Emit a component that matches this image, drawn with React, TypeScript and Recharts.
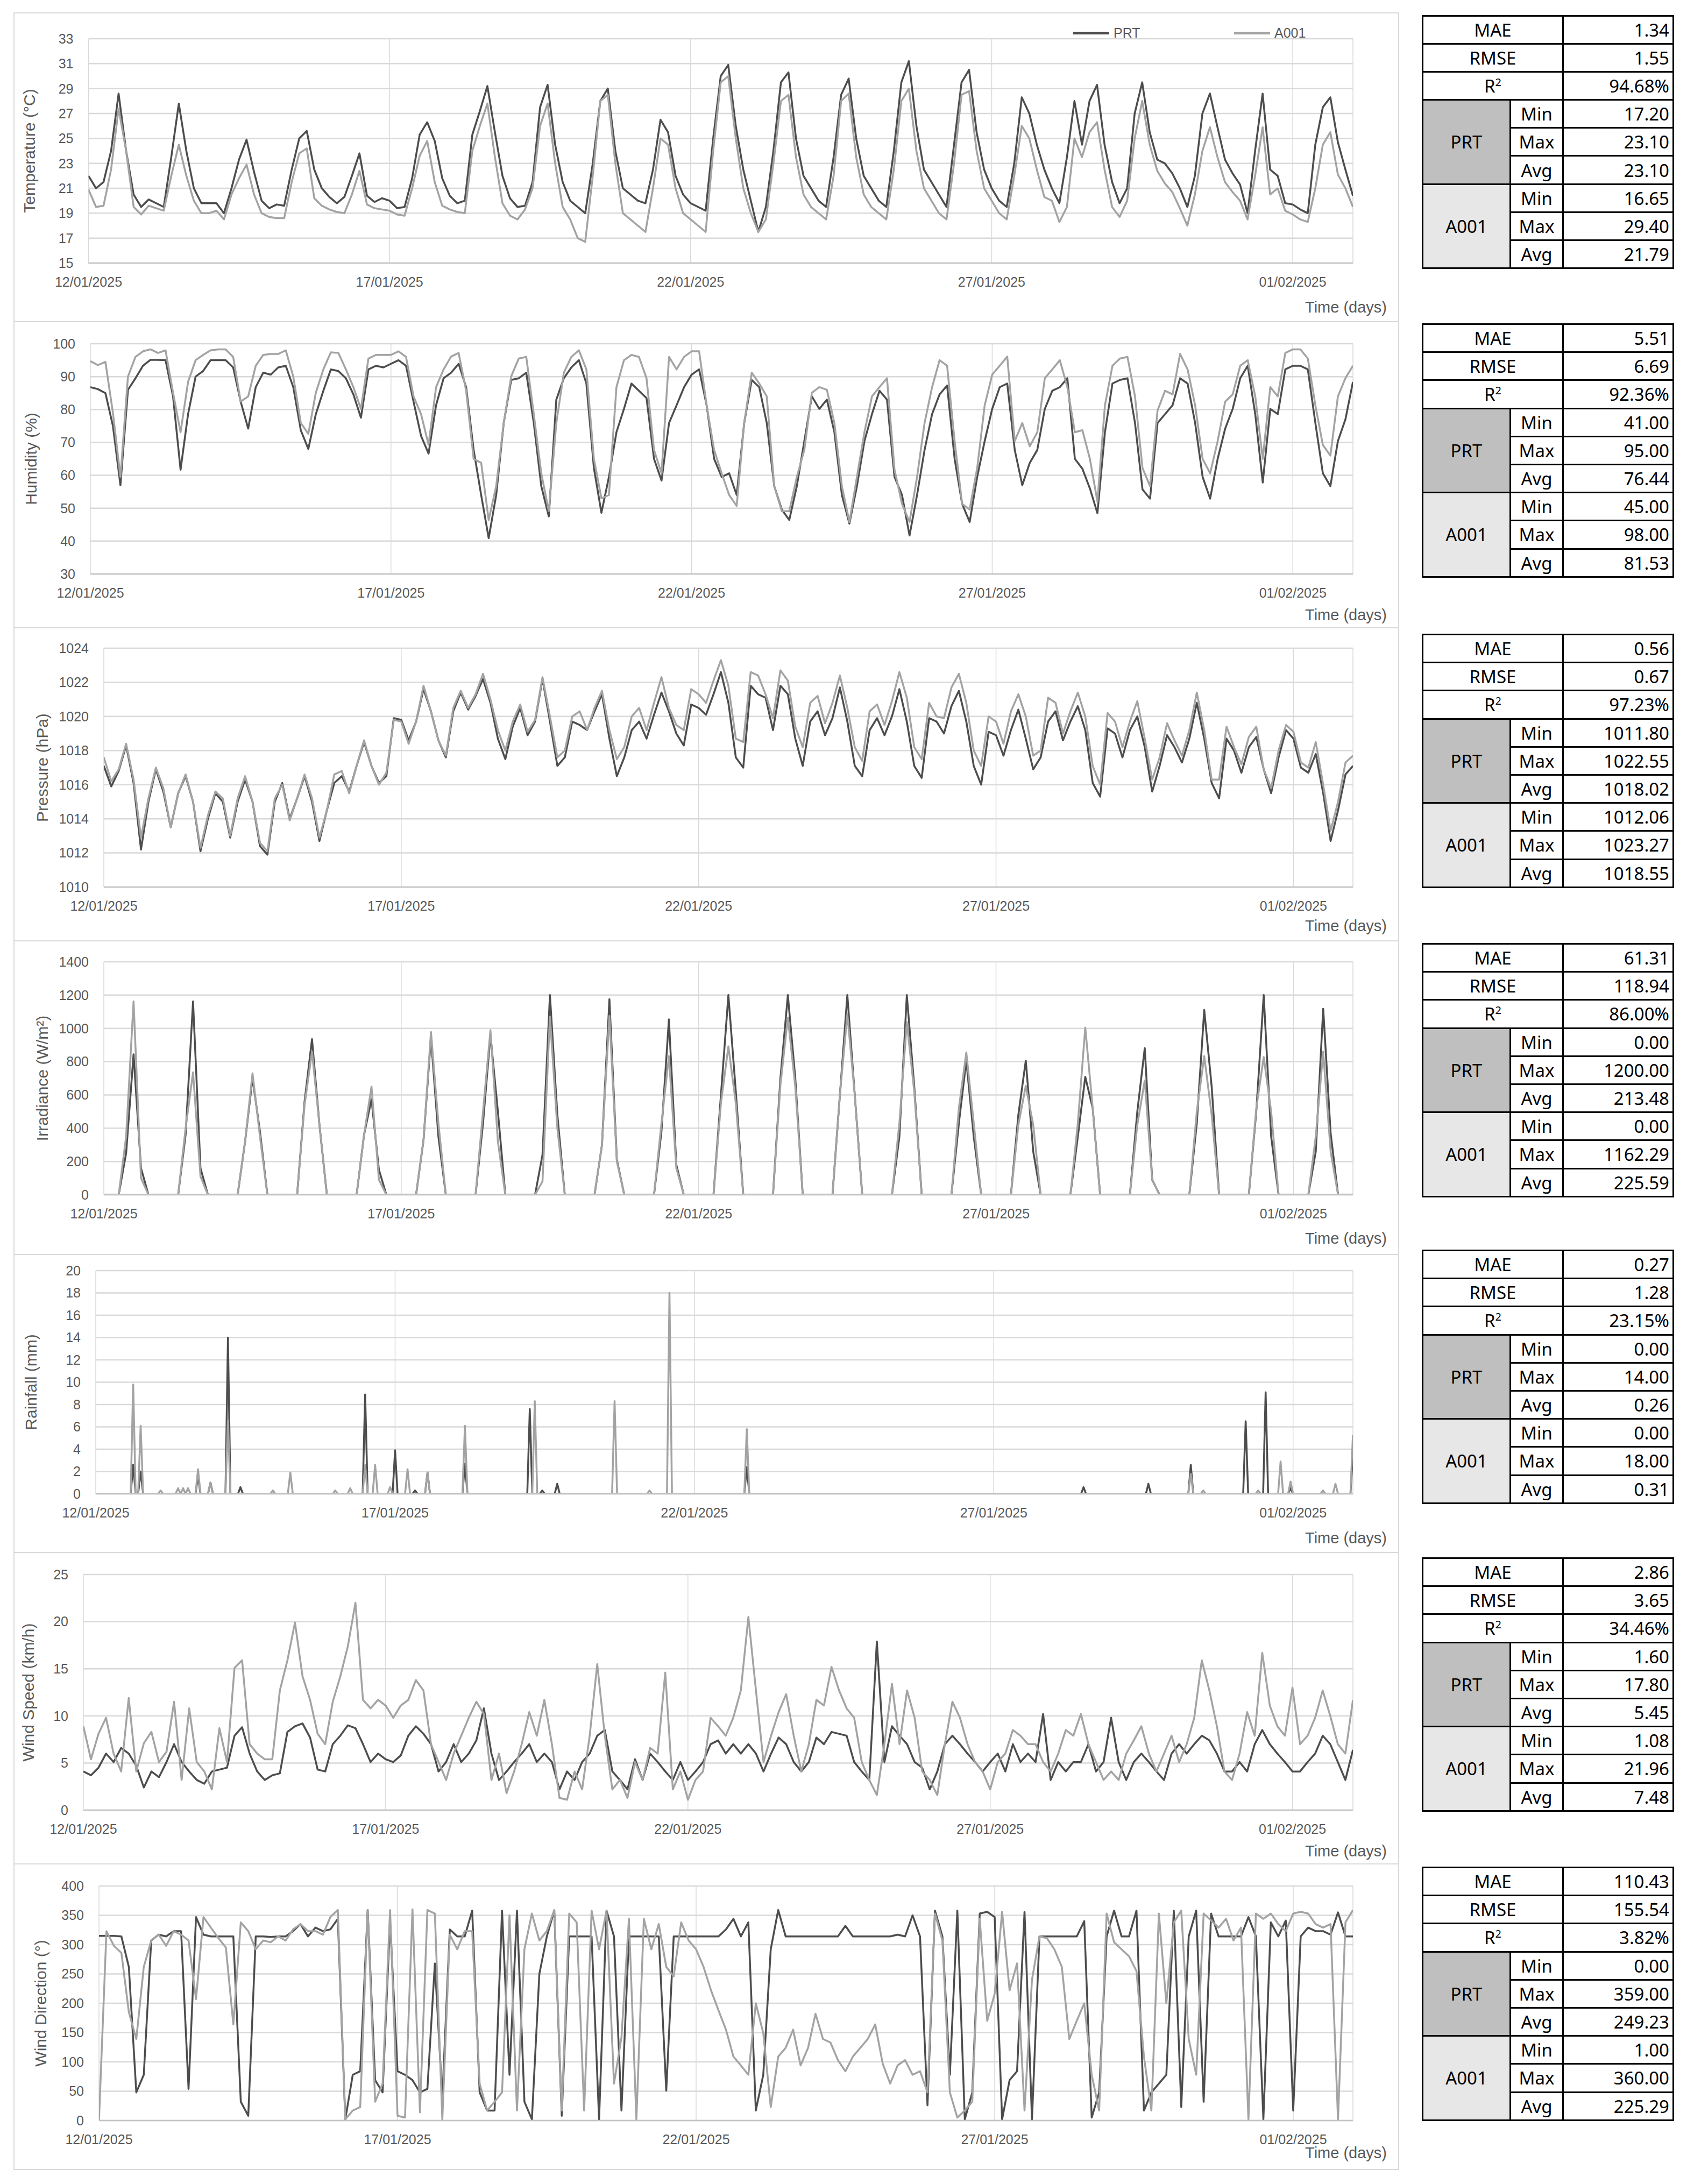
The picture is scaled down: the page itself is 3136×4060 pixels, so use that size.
import React from 'react';
import { LineChart, Line, XAxis, YAxis, CartesianGrid, Legend } from 'recharts';

// ---------- axis categories ----------
const dateTicks = [0, 5, 10, 15, 20];
const dateLabels = ['12/01/2025', '17/01/2025', '22/01/2025', '27/01/2025', '01/02/2025'];
const seriesNames = ['PRT', 'A001'];

// ---------- 3-hourly samples, 12/01/2025 00:00 -> 02/02/2025 00:00 ----------
const tempPrt = [
  22.0, 21.0, 21.5, 24.0, 28.6, 24.0, 20.5, 19.5,
  20.1, 19.8, 19.5, 23.5, 27.8, 24.0, 21.0, 19.8,
  19.8, 19.8, 19.0, 21.0, 23.3, 24.9, 22.3, 20.0,
  19.4, 19.7, 19.6, 22.5, 25.0, 25.6, 22.5, 21.0,
  20.3, 19.8, 20.3, 22.0, 23.8, 20.4, 19.9, 20.2,
  20.0, 19.4, 19.5, 21.8, 25.3, 26.3, 24.8, 21.8,
  20.4, 19.8, 20.0, 25.3, 27.2, 29.2, 25.5, 22.0,
  20.2, 19.5, 19.6, 21.5, 27.5, 29.3, 24.5, 21.5,
  20.0, 19.5, 19.0, 23.0, 28.0, 29.0, 24.0, 21.0,
  20.5, 20.0, 19.8, 22.5, 26.5, 25.5, 22.0, 20.5,
  19.8, 19.5, 19.2, 25.0, 30.0, 30.9, 26.0, 22.5,
  20.0, 17.5, 19.5, 24.0, 29.5, 30.3, 25.0, 22.0,
  21.0, 20.0, 19.5, 23.5, 28.5, 29.8, 25.0, 22.0,
  21.0, 20.0, 19.5, 24.0, 29.5, 31.2, 26.0, 22.5,
  21.5, 20.5, 19.5, 24.5, 29.5, 30.5, 25.5, 22.5,
  21.0, 20.0, 19.5, 23.0, 28.3, 27.0, 24.5, 22.5,
  21.0, 19.8, 23.5, 28.0, 24.5, 28.0, 29.3, 24.5,
  21.5, 19.8, 21.0, 27.0, 29.5, 25.5, 23.3, 23.0,
  22.2, 21.0, 19.5, 22.0, 27.0, 28.6, 25.9, 23.3,
  22.2, 21.3, 19.0, 24.0, 28.6, 22.5, 22.0, 19.8,
  19.7, 19.3, 19.0, 24.5, 27.5, 28.3, 24.7, 22.5,
  20.4,
];
const tempA001 = [
  20.9, 19.5, 19.6, 22.5, 27.4, 24.0, 19.5, 18.9,
  19.6, 19.4, 19.2, 22.0, 24.5, 22.0, 20.0, 19.0,
  19.0, 19.2, 18.5, 20.5, 21.8, 22.9, 20.5, 19.0,
  18.7, 18.6, 18.6, 21.5, 23.8, 24.2, 20.2, 19.6,
  19.3, 19.1, 19.0, 20.5, 22.4, 19.7, 19.4, 19.3,
  19.2, 18.9, 18.8, 21.0, 23.6, 24.8, 21.5, 19.6,
  19.3, 19.1, 19.0, 24.0, 26.0, 27.8, 23.5, 19.8,
  18.8, 18.5, 19.3, 21.0, 26.0, 27.8, 23.0, 19.5,
  18.5, 17.0, 16.7, 22.0, 28.0, 28.5, 23.0, 19.0,
  18.5, 18.0, 17.5, 21.0, 25.0, 24.5, 21.0, 19.0,
  18.5, 18.0, 17.5, 24.0, 29.5, 30.0, 25.0, 21.0,
  19.0, 17.5, 18.5, 23.0, 28.0, 28.5, 23.5, 20.5,
  19.5, 19.0, 18.5, 22.0, 28.0, 28.6, 23.5, 20.5,
  19.5, 19.0, 18.5, 22.5, 28.0, 29.0, 24.0, 21.0,
  20.0, 19.0, 18.5, 23.0, 28.5, 28.8, 24.0, 21.0,
  20.0, 19.0, 18.5, 22.0, 26.0, 25.0, 22.5, 20.3,
  20.0, 18.3, 19.5, 25.0, 23.5, 25.5, 26.3, 22.5,
  19.5, 18.7, 20.0, 25.0, 28.0, 24.5, 22.4, 21.4,
  20.7, 19.4, 18.0, 20.5, 24.0, 25.9, 23.5, 21.5,
  20.7, 20.0, 18.5, 22.0, 25.9, 20.5, 21.0, 19.2,
  18.9, 18.5, 18.3, 21.0, 24.5, 25.5, 22.1, 21.0,
  19.5,
];

const humPrt = [
  86.8, 86.2, 85.0, 75.0, 57.0, 86.0, 89.5, 93.3,
  95.1, 95.1, 95.0, 84.0, 61.7, 78.6, 90.0, 91.7,
  95.0, 95.0, 95.0, 92.8, 82.4, 74.2, 86.8, 91.2,
  90.6, 92.8, 93.3, 86.8, 73.7, 68.0, 78.6, 85.7,
  92.2, 91.7, 89.5, 84.6, 77.5, 92.2, 93.3, 92.8,
  93.9, 95.0, 93.3, 82.4, 72.0, 66.6, 81.3, 89.5,
  91.2, 93.9, 86.8, 67.7, 54.0, 40.9, 54.0, 75.9,
  89.0, 89.5, 91.2, 75.9, 56.7, 47.5, 83.0, 89.5,
  92.8, 95.0, 87.9, 62.2, 48.6, 59.5, 73.1, 80.2,
  87.9, 85.7, 83.5, 65.0, 58.4, 75.9, 81.3, 86.8,
  90.6, 92.2, 81.3, 65.0, 59.5, 60.6, 54.0, 75.9,
  89.0, 86.8, 75.9, 56.7, 49.6, 46.4, 56.7, 70.4,
  84.0, 80.2, 83.0, 73.1, 54.0, 45.3, 56.7, 70.4,
  78.6, 85.7, 83.0, 59.5, 54.0, 41.7, 54.0, 67.7,
  78.6, 84.6, 87.3, 65.0, 51.3, 45.8, 59.5, 70.4,
  80.2, 86.8, 87.9, 67.7, 57.0, 63.8, 67.7, 80.2,
  85.7, 86.8, 89.5, 65.0, 62.0, 56.0, 48.5, 73.1,
  87.9, 89.0, 89.5, 75.9, 55.7, 52.9, 75.9, 78.6,
  81.3, 89.5, 87.9, 75.9, 59.5, 52.9, 65.0, 74.2,
  80.2, 89.5, 93.3, 78.6, 57.8, 80.2, 78.6, 92.2,
  93.3, 93.3, 92.2, 75.9, 60.6, 56.7, 70.4, 77.0,
  88.4,
];
const humA001 = [
  94.7, 93.5, 94.5, 79.0, 59.5, 90.0, 96.0, 97.7,
  98.3, 97.2, 98.0, 85.1, 73.1, 88.4, 95.0, 96.6,
  98.0, 98.3, 98.3, 96.0, 82.4, 84.0, 93.3, 96.6,
  96.9, 96.9, 98.0, 90.0, 75.9, 72.6, 85.1, 92.2,
  97.4, 97.2, 92.2, 86.8, 80.2, 95.5, 96.6, 96.6,
  96.6, 97.7, 96.0, 84.0, 78.6, 69.3, 86.8, 92.2,
  96.1, 97.2, 85.7, 65.0, 63.8, 46.4, 56.7, 75.9,
  90.1, 95.5, 96.0, 78.6, 60.6, 49.1, 75.9, 91.2,
  96.0, 98.0, 92.2, 65.0, 53.0, 54.0, 86.8, 95.0,
  96.6, 96.0, 89.5, 67.7, 60.6, 96.0, 92.2, 96.0,
  97.7, 97.7, 81.3, 67.7, 60.6, 54.0, 50.7, 75.9,
  91.2, 87.9, 84.0, 56.7, 49.1, 49.1, 59.5, 67.7,
  85.1, 86.8, 86.0, 75.9, 56.7, 45.8, 59.5, 73.1,
  84.0, 86.8, 89.5, 61.7, 51.3, 45.8, 59.5, 75.9,
  86.8, 95.0, 93.3, 70.4, 51.3, 49.6, 62.2, 81.3,
  90.6, 93.3, 96.1, 70.4, 75.9, 68.8, 73.1, 89.5,
  92.2, 95.0, 86.8, 73.1, 73.7, 65.0, 52.0, 81.3,
  93.3, 95.5, 96.0, 84.0, 62.2, 56.7, 79.7, 85.7,
  84.6, 96.9, 92.2, 81.3, 65.0, 60.6, 70.4, 82.4,
  84.6, 93.3, 95.0, 84.0, 65.0, 86.8, 84.0, 97.2,
  98.3, 98.3, 95.5, 81.3, 69.2, 66.0, 84.0, 89.5,
  93.3,
];

const presPrt = [
  1017.1, 1015.9, 1016.8, 1018.3, 1016.1, 1012.2, 1015.0, 1016.9,
  1015.6, 1013.5, 1015.5, 1016.5, 1015.0, 1012.1, 1014.0, 1015.5,
  1015.0, 1012.9, 1015.0, 1016.3, 1015.0, 1012.4, 1011.9, 1015.0,
  1016.1, 1014.0, 1015.2, 1016.5, 1015.0, 1012.7, 1014.5, 1016.1,
  1016.5, 1015.6, 1017.1, 1018.5, 1017.1, 1016.1, 1016.5, 1019.9,
  1019.8, 1018.6, 1019.7, 1021.6, 1020.3, 1018.6, 1017.6, 1020.3,
  1021.4, 1020.4, 1021.2, 1022.2, 1020.8, 1018.7, 1017.5, 1019.4,
  1020.5, 1018.9, 1019.7, 1022.2, 1019.7, 1017.1, 1017.6, 1019.7,
  1019.5, 1019.2, 1020.3, 1021.3, 1018.7, 1016.5, 1017.6, 1019.2,
  1019.7, 1018.7, 1020.1, 1021.4, 1020.3, 1019.0, 1018.3, 1020.7,
  1020.5, 1020.1, 1021.3, 1022.6, 1020.8, 1017.6, 1017.0, 1021.8,
  1021.3, 1021.1, 1019.2, 1021.8, 1021.3, 1018.7, 1017.1, 1019.7,
  1020.3, 1018.9, 1019.9, 1021.7, 1019.7, 1017.1, 1016.5, 1019.2,
  1019.9, 1018.9, 1020.0, 1021.6, 1019.7, 1017.1, 1016.4, 1019.9,
  1019.7, 1019.0, 1020.6, 1021.5, 1019.7, 1017.1, 1016.0, 1019.1,
  1018.9, 1017.7, 1019.2, 1020.4, 1018.7, 1016.9, 1017.6, 1019.7,
  1020.3, 1018.6, 1019.7, 1020.6, 1019.2, 1016.1, 1015.3, 1019.3,
  1019.0, 1017.6, 1019.2, 1020.0, 1018.2, 1015.6, 1017.1, 1018.9,
  1018.2, 1017.3, 1018.7, 1020.8, 1018.7, 1016.1, 1015.2, 1018.7,
  1018.0, 1016.7, 1018.2, 1018.8, 1016.9, 1015.5, 1017.6, 1019.2,
  1018.7, 1017.0, 1016.7, 1017.8, 1015.5, 1012.7, 1014.5, 1016.6,
  1017.1,
];
const presA001 = [
  1017.6, 1016.2, 1016.9, 1018.4, 1016.3, 1012.9, 1015.2, 1017.0,
  1015.8, 1013.5, 1015.5, 1016.6, 1015.0, 1012.3, 1014.2, 1015.6,
  1015.2, 1013.0, 1015.2, 1016.5, 1015.0, 1012.6, 1012.1, 1015.2,
  1016.0, 1013.9, 1015.2, 1016.6, 1015.2, 1012.9, 1014.5, 1016.6,
  1016.8, 1015.5, 1017.1, 1018.6, 1017.1, 1016.0, 1016.7, 1019.8,
  1019.7, 1018.4, 1019.7, 1021.8, 1020.3, 1018.6, 1017.7, 1020.5,
  1021.5, 1020.5, 1021.3, 1022.5, 1021.0, 1019.2, 1018.0, 1019.7,
  1020.7, 1019.1, 1019.8, 1022.3, 1020.0, 1017.6, 1018.0, 1020.0,
  1020.3, 1019.2, 1020.5, 1021.5, 1019.2, 1017.5, 1018.2, 1020.0,
  1020.5, 1019.2, 1020.8, 1022.3, 1020.5, 1019.5, 1019.2, 1021.6,
  1021.3, 1020.8, 1022.1, 1023.3, 1021.8, 1018.7, 1018.5, 1022.6,
  1022.4, 1021.3, 1019.9, 1022.7, 1022.1, 1019.4, 1018.2, 1020.8,
  1021.2, 1019.6, 1020.8, 1022.4, 1020.5, 1018.2, 1017.4, 1020.3,
  1020.7, 1019.5, 1020.9, 1022.6, 1021.1, 1018.2, 1017.5, 1020.8,
  1020.0, 1019.9, 1021.7, 1022.5, 1020.8, 1018.0, 1017.1, 1020.0,
  1019.7, 1018.4, 1020.3, 1021.3, 1020.0, 1017.7, 1018.0, 1021.1,
  1020.8, 1019.0, 1020.3, 1021.4, 1020.0, 1017.1, 1016.0, 1020.2,
  1019.7, 1018.2, 1019.7, 1020.9, 1018.7, 1016.3, 1017.6, 1019.6,
  1018.6, 1017.7, 1019.2, 1021.4, 1019.2, 1016.3, 1016.3, 1019.4,
  1018.2, 1017.2, 1018.8, 1019.4, 1016.9, 1015.8, 1018.0, 1019.5,
  1019.1, 1017.3, 1017.0, 1018.5, 1016.0, 1013.3, 1015.0, 1017.3,
  1017.7,
];

const irrPrt = [
  0, 0, 0, 250, 844, 160, 0, 0,
  0, 0, 0, 360, 1162, 160, 0, 0,
  0, 0, 0, 320, 700, 380, 0, 0,
  0, 0, 0, 560, 935, 420, 0, 0,
  0, 0, 0, 360, 574, 150, 0, 0,
  0, 0, 0, 330, 946, 350, 0, 0,
  0, 0, 0, 430, 960, 500, 0, 0,
  0, 0, 0, 240, 1200, 480, 0, 0,
  0, 0, 0, 300, 1175, 210, 0, 0,
  0, 0, 0, 380, 1054, 180, 0, 0,
  0, 0, 0, 600, 1200, 620, 0, 0,
  0, 0, 0, 700, 1200, 700, 0, 0,
  0, 0, 0, 600, 1200, 600, 0, 0,
  0, 0, 0, 350, 1200, 650, 0, 0,
  0, 0, 0, 430, 806, 350, 0, 0,
  0, 0, 0, 480, 806, 260, 0, 0,
  0, 0, 0, 350, 709, 520, 0, 0,
  0, 0, 0, 500, 881, 90, 0, 0,
  0, 0, 0, 430, 1111, 650, 0, 0,
  0, 0, 0, 500, 1200, 350, 0, 0,
  0, 0, 0, 260, 1118, 370, 0, 0,
  0,
];
const irrA001 = [
  0, 0, 0, 350, 1162, 100, 0, 0,
  0, 0, 0, 400, 736, 110, 0, 0,
  0, 0, 0, 320, 730, 350, 0, 0,
  0, 0, 0, 540, 860, 420, 0, 0,
  0, 0, 0, 360, 650, 90, 0, 0,
  0, 0, 0, 330, 978, 430, 0, 0,
  0, 0, 0, 500, 989, 320, 0, 0,
  0, 0, 0, 80, 1070, 400, 0, 0,
  0, 0, 0, 300, 1075, 200, 0, 0,
  0, 0, 0, 430, 833, 160, 0, 0,
  0, 0, 0, 550, 892, 550, 0, 0,
  0, 0, 0, 660, 1065, 650, 0, 0,
  0, 0, 0, 600, 1086, 600, 0, 0,
  0, 0, 0, 430, 1038, 620, 0, 0,
  0, 0, 0, 520, 855, 430, 0, 0,
  0, 0, 0, 420, 655, 420, 0, 0,
  0, 0, 0, 430, 1005, 520, 0, 0,
  0, 0, 0, 420, 687, 90, 0, 0,
  0, 0, 0, 500, 833, 480, 0, 0,
  0, 0, 0, 520, 828, 500, 0, 0,
  0, 0, 0, 350, 860, 260, 0, 0,
  0,
];

// rainfall: hourly record, only the non-zero hours are listed (hour index from 12/01 00:00)
const rainPrtHour = [15, 18, 41, 46, 53, 58, 108, 120, 128, 133, 148, 174, 179, 185, 261, 396, 422, 439, 461, 469, 479, 504];
const rainPrtMm = [2.6, 2.0, 1.6, 1.0, 14.0, 0.6, 8.9, 3.9, 0.3, 1.9, 2.7, 7.6, 0.3, 0.9, 2.4, 0.6, 0.9, 2.6, 6.5, 9.1, 0.5, 3.5];
const rainA001Hour = [15, 18, 26, 33, 35, 37, 41, 46, 53, 71, 78, 96, 102, 108, 112, 118, 125, 133, 148, 176, 208, 222, 230, 261, 439, 444, 466, 475, 479, 492, 497, 504];
const rainA001Mm = [9.8, 6.1, 0.3, 0.5, 0.5, 0.5, 2.2, 1.0, 6.6, 0.3, 1.9, 0.3, 0.5, 2.6, 2.6, 0.6, 2.2, 1.9, 6.1, 8.3, 8.3, 0.3, 18.0, 5.8, 1.8, 0.3, 0.3, 2.9, 1.1, 0.3, 0.9, 5.3];

const windPrt = [
  4.1, 3.7, 4.5, 6.0, 5.1, 6.6, 6.0, 4.7,
  2.4, 4.1, 3.5, 5.1, 7.0, 5.1, 4.1, 3.2,
  2.8, 4.1, 4.3, 4.5, 7.9, 8.8, 6.0, 4.1,
  3.2, 3.7, 3.9, 8.3, 8.9, 9.2, 7.7, 4.3,
  4.1, 7.0, 7.9, 9.0, 8.7, 7.0, 5.1, 6.0,
  5.4, 5.1, 5.8, 7.9, 8.9, 8.1, 7.0, 4.1,
  5.1, 7.0, 5.1, 6.0, 7.4, 10.8, 6.0, 3.2,
  4.1, 5.1, 6.0, 7.0, 5.1, 6.0, 5.1, 2.2,
  4.1, 3.2, 5.1, 6.0, 7.9, 8.5, 4.1, 3.2,
  2.2, 5.4, 3.2, 6.0, 5.1, 4.1, 3.2, 5.1,
  3.2, 4.1, 5.1, 7.0, 7.4, 6.0, 7.0, 6.0,
  7.0, 6.0, 4.1, 6.0, 7.7, 7.0, 5.1, 4.1,
  5.1, 7.7, 7.0, 8.3, 8.1, 7.9, 5.1, 4.1,
  3.2, 17.9, 5.1, 8.9, 7.9, 7.0, 5.1, 4.5,
  2.2, 4.1, 7.0, 7.9, 7.0, 6.0, 5.1, 4.1,
  5.1, 6.0, 4.1, 7.0, 5.1, 6.0, 5.1, 10.2,
  3.2, 5.1, 4.1, 5.1, 5.1, 7.0, 4.1, 5.1,
  9.8, 5.1, 3.2, 5.1, 6.0, 5.1, 4.1, 3.2,
  6.0, 7.0, 6.0, 7.0, 7.9, 7.4, 6.0, 4.1,
  4.1, 5.1, 4.1, 7.0, 8.5, 7.0, 6.0, 5.1,
  4.1, 4.1, 5.1, 6.0, 7.9, 7.0, 5.1, 3.2,
  6.4,
];
const windA001 = [
  8.9, 5.4, 8.1, 9.8, 6.0, 4.1, 11.9, 4.1,
  7.1, 8.3, 5.1, 6.2, 11.5, 3.2, 10.8, 5.1,
  4.1, 2.2, 8.7, 5.1, 15.1, 15.9, 7.0, 6.0,
  5.4, 5.4, 12.7, 15.9, 19.9, 14.2, 11.7, 8.1,
  7.0, 11.5, 14.2, 17.4, 22.0, 11.7, 10.8, 11.7,
  11.1, 9.8, 11.1, 11.7, 13.8, 12.7, 7.0, 5.1,
  3.2, 6.0, 7.9, 9.8, 11.5, 10.2, 3.2, 6.0,
  1.8, 4.1, 7.0, 10.4, 7.9, 11.7, 7.0, 1.3,
  1.1, 4.1, 2.2, 7.9, 15.5, 7.9, 2.2, 3.2,
  1.3, 5.1, 3.2, 6.6, 6.0, 14.6, 2.2, 4.1,
  1.1, 3.2, 4.1, 9.8, 8.9, 7.9, 9.8, 12.7,
  20.5, 12.7, 5.1, 7.9, 10.4, 12.3, 7.9, 4.1,
  7.0, 11.7, 11.1, 15.2, 12.7, 10.8, 9.8, 5.1,
  3.2, 1.6, 7.0, 13.4, 7.0, 12.7, 9.8, 4.1,
  3.2, 1.6, 7.0, 11.5, 9.8, 7.0, 5.1, 4.1,
  2.2, 5.1, 6.0, 8.5, 7.9, 7.0, 7.0, 5.1,
  4.1, 6.0, 8.5, 7.9, 10.2, 7.0, 5.1, 3.2,
  4.1, 3.2, 6.0, 7.4, 8.9, 6.0, 4.1, 6.0,
  7.9, 5.1, 7.0, 9.8, 15.9, 12.7, 8.9, 4.1,
  3.2, 6.0, 10.4, 7.9, 16.7, 11.1, 8.9, 7.9,
  13.0, 7.0, 7.9, 9.8, 12.7, 10.0, 7.0, 6.0,
  11.7,
];

const dirPrt = [
  315, 315, 315, 314, 262, 48, 78, 307,
  317, 314, 323, 323, 54, 347, 317, 314,
  314, 314, 314, 32, 8, 314, 314, 313,
  314, 314, 323, 335, 314, 329, 323, 326,
  344, 2, 78, 84, 359, 69, 48, 340,
  84, 78, 69, 48, 54, 268, 38, 326,
  314, 314, 358, 48, 17, 17, 358, 78,
  358, 32, 2, 250, 314, 358, 8, 314,
  314, 314, 314, 2, 358, 314, 17, 314,
  314, 314, 314, 314, 51, 314, 314, 314,
  314, 314, 314, 314, 326, 344, 314, 338,
  17, 78, 292, 359, 314, 314, 314, 314,
  314, 314, 314, 314, 332, 314, 314, 314,
  314, 314, 314, 317, 314, 350, 314, 26,
  358, 314, 78, 358, 2, 48, 353, 356,
  347, 2, 69, 84, 356, 2, 314, 314,
  314, 314, 314, 314, 340, 5, 48, 314,
  358, 314, 314, 358, 17, 48, 63, 78,
  358, 23, 314, 358, 32, 353, 314, 314,
  314, 314, 347, 314, 2, 338, 314, 341,
  17, 314, 329, 323, 323, 317, 355, 314,
  314,
];
const dirA001 = [
  1, 323, 298, 286, 185, 139, 262, 307,
  317, 298, 323, 317, 307, 207, 347, 329,
  311, 295, 164, 338, 323, 292, 307, 304,
  314, 307, 326, 335, 323, 323, 317, 347,
  359, 2, 17, 23, 359, 32, 63, 359,
  8, 5, 360, 14, 359, 353, 2, 317,
  292, 323, 323, 63, 17, 32, 48, 350,
  17, 292, 353, 307, 323, 359, 17, 353,
  338, 17, 358, 292, 358, 63, 142, 344,
  2, 344, 292, 335, 262, 246, 338, 307,
  292, 262, 222, 188, 155, 109, 94, 78,
  200, 149, 23, 109, 124, 155, 94, 124,
  182, 139, 133, 103, 84, 109, 124, 139,
  164, 97, 63, 94, 103, 78, 84, 48,
  353, 307, 48, 5, 17, 32, 344, 170,
  216, 356, 222, 268, 17, 240, 314, 311,
  292, 262, 139, 170, 200, 78, 17, 353,
  304, 292, 280, 255, 109, 17, 353, 200,
  338, 358, 139, 78, 353, 341, 329, 344,
  307, 329, 2, 353, 344, 353, 335, 323,
  353, 356, 353, 335, 329, 335, 2, 338,
  359,
];

// ---------- statistics tables ----------
const tempStats = ['1.34', '1.55', '94.68%', '17.20', '23.10', '23.10', '16.65', '29.40', '21.79'];
const humStats = ['5.51', '6.69', '92.36%', '41.00', '95.00', '76.44', '45.00', '98.00', '81.53'];
const presStats = ['0.56', '0.67', '97.23%', '1011.80', '1022.55', '1018.02', '1012.06', '1023.27', '1018.55'];
const irrStats = ['61.31', '118.94', '86.00%', '0.00', '1200.00', '213.48', '0.00', '1162.29', '225.59'];
const rainStats = ['0.27', '1.28', '23.15%', '0.00', '14.00', '0.26', '0.00', '18.00', '0.31'];
const windStats = ['2.86', '3.65', '34.46%', '1.60', '17.80', '5.45', '1.08', '21.96', '7.48'];
const dirStats = ['110.43', '155.54', '3.82%', '0.00', '359.00', '249.23', '1.00', '360.00', '225.29'];

// ---------- builders ----------
const STEP_3H = 0.125;
function rows3h(prt: number[], a001: number[]) {
  return prt.map((v, i) => ({ t: i * STEP_3H, prt: v, a001: a001[i] }));
}
function rowsRain() {
  const out: { t: number; prt: number; a001: number }[] = [];
  for (let h = 0; h <= 504; h++) out.push({ t: h / 24, prt: 0, a001: 0 });
  rainPrtHour.forEach((h, i) => { out[h].prt = rainPrtMm[i]; });
  rainA001Hour.forEach((h, i) => { out[h].a001 = rainA001Mm[i]; });
  return out;
}
function range(a: number, b: number, s: number) {
  const r: number[] = [];
  for (let v = a; v <= b + 1e-9; v += s) r.push(v);
  return r;
}

const FONT = '"Liberation Sans", Arial, sans-serif';
const GREY_TEXT = '#595959';
const PRT_COLOR = '#4d4d4d';
const A001_COLOR = '#a3a3a3';
const FRAME_L = 25;
const FRAME_W = 2576;
const PLOT_R = 2515;
const YAXIS_W = 100;
const XAXIS_H = 60;

type PanelCfg = {
  title: string;
  rows: any[];
  domain: [number, number];
  ticks: number[];
  frameTop: number;
  frameBottom: number;
  plotLeft: number;
  plotTop: number;
  plotBottom: number;
  titleX: number;
  timeDy: number;
  tableTop: number;
  stats: string[];
  legend?: boolean;
};

const panels: PanelCfg[] = [
  { title: 'Temperature (°C)', rows: rows3h(tempPrt, tempA001), domain: [15, 33], ticks: range(15, 33, 2), frameTop: 23, frameBottom: 597, plotLeft: 164.5, plotTop: 72, plotBottom: 489, titleX: 54, timeDy: 82, tableTop: 27.5, stats: tempStats, legend: true },
  { title: 'Humidity (%)', rows: rows3h(humPrt, humA001), domain: [30, 100], ticks: range(30, 100, 10), frameTop: 597, frameBottom: 1166, plotLeft: 168, plotTop: 639, plotBottom: 1067, titleX: 57, timeDy: 76, tableTop: 601, stats: humStats },
  { title: 'Pressure (hPa)', rows: rows3h(presPrt, presA001), domain: [1010, 1024], ticks: range(1010, 1024, 2), frameTop: 1166, frameBottom: 1748, plotLeft: 193, plotTop: 1205, plotBottom: 1649, titleX: 78, timeDy: 72, tableTop: 1178, stats: presStats },
  { title: 'Irradiance (W/m²)', rows: rows3h(irrPrt, irrA001), domain: [0, 1400], ticks: range(0, 1400, 200), frameTop: 1748, frameBottom: 2331, plotLeft: 193, plotTop: 1788, plotBottom: 2221, titleX: 78, timeDy: 81, tableTop: 1753, stats: irrStats },
  { title: 'Rainfall (mm)', rows: rowsRain(), domain: [0, 20], ticks: range(0, 20, 2), frameTop: 2331, frameBottom: 2885, plotLeft: 178, plotTop: 2362, plotBottom: 2777, titleX: 57, timeDy: 82, tableTop: 2323, stats: rainStats },
  { title: 'Wind Speed (km/h)', rows: rows3h(windPrt, windA001), domain: [0, 25], ticks: range(0, 25, 5), frameTop: 2885, frameBottom: 3464, plotLeft: 155, plotTop: 2927, plotBottom: 3365, titleX: 52, timeDy: 76, tableTop: 2895, stats: windStats },
  { title: 'Wind Direction (°)', rows: rows3h(dirPrt, dirA001), domain: [0, 400], ticks: range(0, 400, 50), frameTop: 3464, frameBottom: 4032, plotLeft: 184, plotTop: 3506, plotBottom: 3942, titleX: 75, timeDy: 60, tableTop: 3470, stats: dirStats },
];

function LegendBox() {
  const item = (name: string, color: string, left: number) => (
    <div key={name} style={{ position: 'absolute', left, top: 0, height: 30, display: 'flex', alignItems: 'center' }}>
      <div style={{ width: 67, height: 5, background: color }} />
      <span style={{ marginLeft: 8, fontSize: 25, color: GREY_TEXT, fontFamily: FONT }}>{name}</span>
    </div>
  );
  return (
    <div style={{ position: 'relative', width: 480, height: 30 }}>
      {item(seriesNames[0], PRT_COLOR, 0)}
      {item(seriesNames[1], A001_COLOR, 299)}
    </div>
  );
}

function Panel({ p }: { p: PanelCfg }) {
  const h = p.frameBottom - p.frameTop;
  const margin = {
    top: p.plotTop - p.frameTop,
    right: FRAME_L + FRAME_W - PLOT_R,
    bottom: p.frameBottom - p.plotBottom - XAXIS_H,
    left: p.plotLeft - FRAME_L - YAXIS_W,
  };
  const titleX = p.titleX - FRAME_L;
  const titleY = (p.plotTop + p.plotBottom) / 2 - p.frameTop;
  const timeY = p.plotBottom + p.timeDy - p.frameTop;
  return (
    <div style={{ position: 'absolute', left: FRAME_L, top: p.frameTop, width: FRAME_W, height: h }}>
      <LineChart width={FRAME_W} height={h} data={p.rows} margin={margin}>
        <CartesianGrid horizontal={true} vertical={false} stroke="#d9d9d9" strokeWidth={2.5} />
        <CartesianGrid horizontal={false} vertical={true} stroke="#d9d9d9" strokeWidth={1.5} />
        <XAxis
          dataKey="t"
          type="number"
          domain={[0, 21]}
          ticks={dateTicks}
          interval={0}
          allowDataOverflow
          tickFormatter={(v: number) => dateLabels[dateTicks.indexOf(v)] ?? ''}
          tick={{ fontSize: 25, fill: GREY_TEXT, fontFamily: FONT }}
          tickLine={false}
          tickSize={0}
          tickMargin={26}
          axisLine={{ stroke: '#c4c4c4', strokeWidth: 2.5 }}
          height={XAXIS_H}
          label={{
            content: () => (
              <text x={2578 - FRAME_L} y={timeY} textAnchor="end" dominantBaseline="central" fontSize={29} fill={GREY_TEXT} fontFamily={FONT}>
                Time (days)
              </text>
            ),
          }}
        />
        <YAxis
          type="number"
          domain={p.domain}
          ticks={p.ticks}
          interval={0}
          allowDataOverflow
          width={YAXIS_W}
          tick={{ fontSize: 25, fill: GREY_TEXT, fontFamily: FONT }}
          tickLine={false}
          tickSize={0}
          tickMargin={28}
          axisLine={false}
          label={{
            content: () => (
              <text x={titleX} y={titleY} transform={`rotate(-90 ${titleX} ${titleY})`} textAnchor="middle" dominantBaseline="central" fontSize={30} fill={GREY_TEXT} fontFamily={FONT}>
                {p.title}
              </text>
            ),
          }}
        />
        {p.legend ? (
          <Legend
            verticalAlign="middle"
            align="center"
            layout="horizontal"
            wrapperStyle={{ position: 'absolute', left: 1970, top: 23, width: 480, height: 30 }}
            content={() => <LegendBox />}
          />
        ) : null}
        <Line type="linear" dataKey="prt" name={seriesNames[0]} stroke={PRT_COLOR} strokeWidth={3.5} strokeLinejoin="round" dot={false} activeDot={false} isAnimationActive={false} />
        <Line type="linear" dataKey="a001" name={seriesNames[1]} stroke={A001_COLOR} strokeWidth={3.5} strokeLinejoin="round" dot={false} activeDot={false} isAnimationActive={false} />
      </LineChart>
    </div>
  );
}

function Frame({ p }: { p: PanelCfg }) {
  return (
    <div style={{ position: 'absolute', left: FRAME_L, top: p.frameTop, width: FRAME_W, height: p.frameBottom - p.frameTop + 2, border: '2px solid #d9d9d9', boxSizing: 'border-box', pointerEvents: 'none' }} />
  );
}

function StatTable({ top, vals }: { top: number; vals: string[] }) {
  const cell: React.CSSProperties = { border: '3px solid #000', padding: 0, lineHeight: 1, overflow: 'hidden', whiteSpace: 'nowrap' };
  const center: React.CSSProperties = { ...cell, textAlign: 'center' };
  const right: React.CSSProperties = { ...cell, textAlign: 'right', paddingRight: 6 };
  const rowH = 52.2;
  return (
    <table style={{ position: 'absolute', left: 2643, top, width: 466, borderCollapse: 'collapse', tableLayout: 'fixed', fontFamily: '"Noto Sans", sans-serif', fontSize: 33, color: '#000' }}>
      <colgroup>
        <col style={{ width: 163 }} />
        <col style={{ width: 98 }} />
        <col style={{ width: 205 }} />
      </colgroup>
      <tbody>
        <tr style={{ height: rowH }}><td colSpan={2} style={center}>MAE</td><td style={right}>{vals[0]}</td></tr>
        <tr style={{ height: rowH }}><td colSpan={2} style={center}>RMSE</td><td style={right}>{vals[1]}</td></tr>
        <tr style={{ height: rowH }}><td colSpan={2} style={center}>R<sup style={{ fontSize: 20 }}>2</sup></td><td style={right}>{vals[2]}</td></tr>
        <tr style={{ height: rowH }}><td rowSpan={3} style={{ ...center, background: '#bfbfbf' }}>PRT</td><td style={center}>Min</td><td style={right}>{vals[3]}</td></tr>
        <tr style={{ height: rowH }}><td style={center}>Max</td><td style={right}>{vals[4]}</td></tr>
        <tr style={{ height: rowH }}><td style={center}>Avg</td><td style={right}>{vals[5]}</td></tr>
        <tr style={{ height: rowH }}><td rowSpan={3} style={{ ...center, background: '#e7e7e7' }}>A001</td><td style={center}>Min</td><td style={right}>{vals[6]}</td></tr>
        <tr style={{ height: rowH }}><td style={center}>Max</td><td style={right}>{vals[7]}</td></tr>
        <tr style={{ height: rowH }}><td style={center}>Avg</td><td style={right}>{vals[8]}</td></tr>
      </tbody>
    </table>
  );
}

export default function App() {
  return (
    <div style={{ position: 'absolute', left: 0, top: 0, width: 3136, height: 4060, background: '#ffffff', fontFamily: FONT, overflow: 'hidden' }}>
      {panels.map((p, i) => <Panel key={'p' + i} p={p} />)}
      {panels.map((p, i) => <Frame key={'f' + i} p={p} />)}
      {panels.map((p, i) => <StatTable key={'t' + i} top={p.tableTop} vals={p.stats} />)}
    </div>
  );
}
